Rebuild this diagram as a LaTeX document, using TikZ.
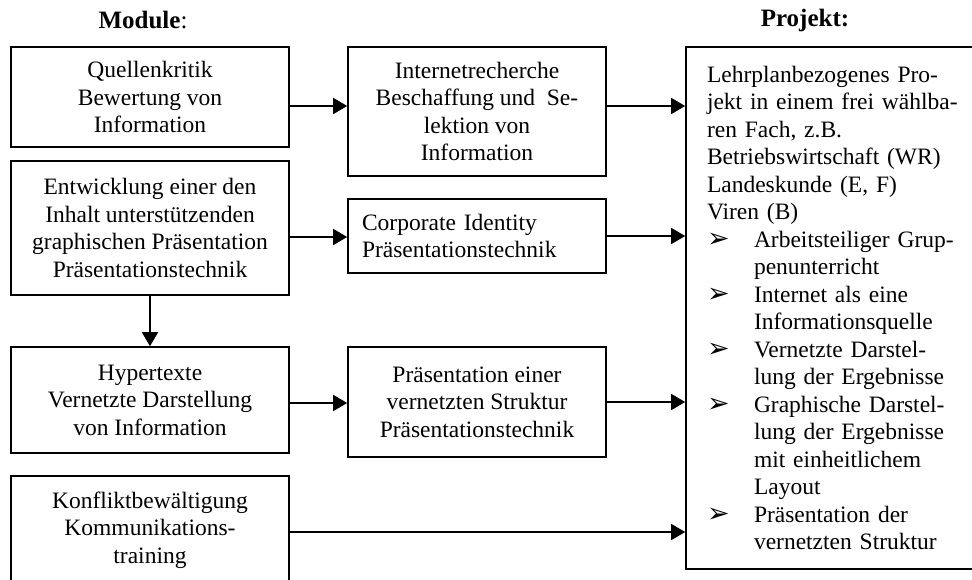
\documentclass[tikz,border=0pt]{standalone}
\usepackage{fontspec}
\setmainfont{Liberation Serif}
\newfontfamily\symfont{DejaVu Sans}
\usetikzlibrary{arrows.meta}
\newcommand{\bul}{\makebox[47pt][l]{\raisebox{0pt}{\symfont\fontsize{27}{27}\selectfont ➢}}}
\newcommand{\ind}{\hspace*{47pt}}
\tikzset{
  box/.style={draw, line width=1.6pt, inner sep=0pt, align=center,
    font=\fontsize{23.5}{27.5}\selectfont},
  arr/.style={line width=1.6pt, -{Triangle[length=14pt,width=16pt]}},
  ttl/.style={inner sep=0pt, font=\fontsize{25}{27.5}\selectfont}
}
\begin{document}
\begin{tikzpicture}[x=1pt,y=-1pt]
\useasboundingbox (0,0) rectangle (972,579);
\clip (0,0) rectangle (972,579);
\node[ttl] (t1) at (143,20) {\textbf{Module}:};
\node[ttl] (t2) at (805,20) {\textbf{Projekt:}};
\node[box, minimum width=278pt, minimum height=100pt] (b1) at (150,97)
  {Quellenkritik\\Bewertung von\\Information};
\node[box, minimum width=278pt, minimum height=134pt] (b2) at (150,228)
  {Entwicklung einer den\\Inhalt unterstützenden\\graphischen Präsentation\\Präsentationstechnik};
\node[box, minimum width=278pt, minimum height=106pt] (hyp) at (150,400)
  {Hypertexte\\Vernetzte Darstellung\\von Information};
\node[box, minimum width=278pt, minimum height=108pt] (konf) at (150,530)
  {Konfliktbewältigung\\Kommunikations-\\training};
\node[box, minimum width=258pt, minimum height=129pt] (inet) at (477,111.5)
  {Internetrecherche\\Beschaffung und~ Se-\\lektion von\\Information};
\node[box, minimum width=258pt, minimum height=74pt, text width=230pt, align=left] (corp) at (477,236)
  {Corporate Identity\\Präsentationstechnik};
\node[box, minimum width=258pt, minimum height=110pt] (pres) at (477,402)
  {Präsentation einer\\vernetzten Struktur\\Präsentationstechnik};
\node[box, minimum width=310pt, minimum height=522pt, text width=268pt, align=left] (proj) at (841,308)
  {Lehrplanbezogenes Pro-\\jekt in einem frei wählba-\\ren Fach, z.B.\\Betriebswirtschaft (WR)\\Landeskunde (E, F)\\Viren (B)\\
   \bul Arbeitsteiliger Grup-\\\ind penunterricht\\
   \bul Internet als eine\\\ind Informationsquelle\\
   \bul Vernetzte Darstel-\\\ind lung der Ergebnisse\\
   \bul Graphische Darstel-\\\ind lung der Ergebnisse\\\ind mit einheitlichem\\\ind Layout\\
   \bul Präsentation der\\\ind vernetzten Struktur};
\draw[arr] (b1.east |- 0,106) -- (inet.west |- 0,106);
\draw[arr] (inet.east |- 0,106) -- (proj.west |- 0,106);
\draw[arr] (b2.east |- 0,237) -- (corp.west |- 0,237);
\draw[arr] (corp.east |- 0,236) -- (proj.west |- 0,236);
\draw[arr] (b2.south) -- (hyp.north);
\draw[arr] (hyp.east |- 0,403) -- (pres.west |- 0,403);
\draw[arr] (pres.east |- 0,402) -- (proj.west |- 0,402);
\draw[arr] (konf.east |- 0,532) -- (proj.west |- 0,532);
\end{tikzpicture}
\end{document}
